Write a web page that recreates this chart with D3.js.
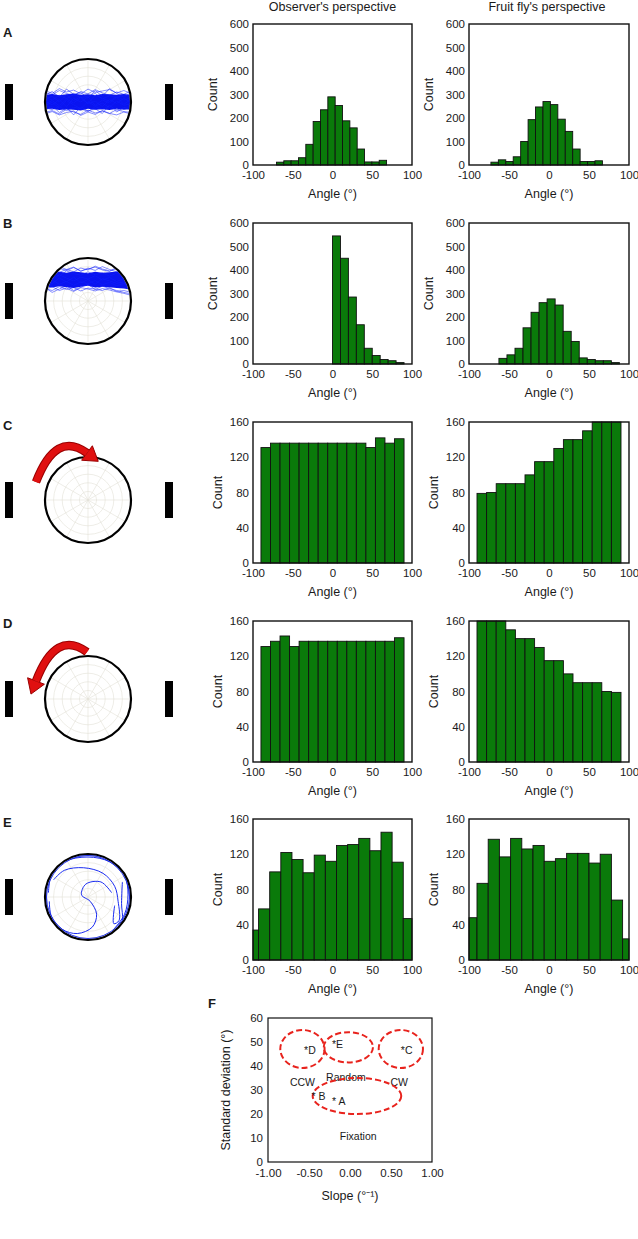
<!DOCTYPE html>
<html><head><meta charset="utf-8">
<script src="https://cdn.jsdelivr.net/npm/d3@7"></script>
<style>body{margin:0;background:#fff} svg{display:block} text{font-family:"Liberation Sans",Arial,sans-serif;fill:#1a1a1a}</style>
</head><body><svg id="fig" width="638" height="1239"></svg>
<script>
// ---------------- DATA ----------------
const panelLetters = ["A","B","C","D","E"];
const colTitles = ["Observer's perspective","Fruit fly's perspective"];
const angleTicks = [-100,-50,0,50,100];
const countTicksBig = [0,100,200,300,400,500,600];
const countTicksSmall = [0,40,80,120,160];

// histograms: counts of equal-width bins spanning [lo, hi]
const obsA = [12,18,18,31,88,185,235,290,253,188,158,68,13,13,20];
const obsARange = [-70.5,68];
const flyA = [12,22,15,35,100,193,247,270,257,195,143,68,15,15,18];
const flyARange = [-72.6,66.8];
const obsB = [545,450,285,167,67,36,19,14,6];
const obsBRange = [0,90];
const flyB = [24,39,67,154,220,261,277,251,139,96,26,19,14,14,6];
const flyBRange = [-62.6,88];
const obsC = [131,136,136,136,136,136,136,136,136,136,136,131,142,136,141];
const obsCRange = [-90,90];
const flyC = [79,80,90,90,90,100,115,115,130,140,140,150,170,172,168];
const flyCRange = [-90,90];
const obsD = [131,137,143,131,137,137,137,137,137,137,137,137,137,137,141];
const obsDRange = [-90,90];
const flyD = [168,172,170,150,140,140,130,115,115,100,90,90,90,80,79];
const flyDRange = [-90,90];
const obsE = [34,58,100,122,114,99,119,112,130,131,138,124,145,111,47];
const obsERange = [-107,103];
const flyE = [48,87,137,117,138,126,130,112,115,121,121,110,120,68,24];
const flyERange = [-104,106];

// arena trajectories (elevation in degrees, sampled across the arena)
const coreTopA = [15,17,14,16,18,15,16,14,17,16,15,17,15];
const coreBotA = [-15,-14,-17,-15,-16,-18,-14,-16,-15,-17,-14,-16,-15];
const tracesA = [
  [-5,3,-8,6,-2,9,-4,2,-10,5,-3,8,-1],
  [10,4,14,7,16,9,12,18,6,13,9,15,11],
  [-12,-16,-9,-18,-11,-14,-20,-10,-15,-8,-17,-12,-13],
  [20,15,24,18,13,22,17,26,19,14,21,16,23],
  [-22,-18,-25,-15,-21,-26,-17,-23,-19,-24,-16,-20,-22],
  [2,-6,5,-10,8,0,11,-7,4,-2,10,-5,6],
  [14,22,10,27,16,20,8,24,12,28,18,10,20],
  [-18,-8,-22,-12,-27,-10,-19,-14,-24,-6,-21,-11,-17],
  [7,12,0,15,3,11,-3,14,8,1,12,4,9],
  [-8,0,-13,3,-6,-14,1,-9,-2,-12,2,-7,-4],
  [24,18,28,21,25,17,27,20,23,26,19,24,18],
  [-25,-20,-27,-22,-19,-28,-21,-26,-18,-24,-27,-21,-25]
];
const coreTopB = [60,58,61,59,62,60,58,61,59,60,62,59,58];
const coreBotB = [30,28,31,29,27,30,32,28,30,29,27,26,24];
const tracesB = [
  [66,62,68,64,70,63,67,71,65,62,68,64,60],
  [24,30,22,27,20,28,25,21,26,23,19,16,12],
  [52,45,55,48,42,50,46,53,44,49,41,47,43],
  [38,44,35,41,33,40,36,43,34,39,32,37,30],
  [70,64,72,66,61,69,65,73,67,63,70,65,62],
  [28,18,25,32,22,29,35,24,31,26,22,18,15],
  [56,60,52,63,57,54,61,55,59,52,58,54,50],
  [44,36,48,40,50,38,45,35,47,42,37,40,34],
  [64,68,60,66,71,62,69,64,72,66,61,67,63],
  [26,22,30,24,28,21,27,25,22,28,20,22,18]
];
// free-flight trajectories for E (arena units, -1..1)
const trajE = [
  [[-0.92,0.1],[-0.85,0.5],[-0.55,0.82],[0,0.93],[0.5,0.82],[0.85,0.5],[0.93,0.05],[0.85,-0.4],[0.6,-0.75]],
  [[-0.8,0.4],[-0.55,0.62],[-0.1,0.68],[0.35,0.55],[0.62,0.25],[0.7,-0.1],[0.72,-0.55],[0.6,-0.62],[0.62,-0.2]],
  [[-0.9,-0.1],[-0.85,-0.45],[-0.6,-0.75],[-0.25,-0.85],[0.1,-0.7],[0.2,-0.4],[0.05,-0.1],[-0.15,0.05],[-0.05,0.3],[0.3,0.35],[0.55,0.1]],
  [[0.8,0.35],[0.78,-0.15],[0.8,-0.55],[0.7,-0.8]],
  [[-0.96,-0.25],[-0.97,0.2],[-0.85,0.55],[-0.6,0.8],[-0.2,0.96],[0.25,0.95],[0.65,0.76],[0.9,0.4],[0.97,-0.05]]
];

// Panel F
const fTicksX = [-1,-0.5,0,0.5,1];
const fTicksY = [0,10,20,30,40,50,60];
const groupNames = ["CCW","Random","CW","Fixation"];
const groupSlope = [-0.58,-0.02,0.62,0.085];
const groupSD = [47.1,47.8,47.1,27.5];
const groupRx = [0.27,0.3,0.27,0.54];
const groupRy = [7.9,6.3,7.9,7.5];
const groupLabelSlope = [-0.58,-0.05,0.6,0.1];
const groupLabelSD = [33.3,35.4,33.3,10.8];
const starNames = ["*D","*E","*C","* B","* A"];
const starSlope = [-0.56,-0.22,0.62,-0.47,-0.22];
const starSD = [46.5,49.0,46.5,27.3,25.6];

// ---------------- DRAW ----------------
const svg = d3.select("#fig");
const rowTop = [24,223,422,621,819];
const plotH = 141;
const cols = [[253,412],[469,629]];
const letterY = [32,223,425,623,822];
const GREEN = "#0a7a0a";

const histRows = [
  [[obsA,obsARange],[flyA,flyARange]],
  [[obsB,obsBRange],[flyB,flyBRange]],
  [[obsC,obsCRange],[flyC,flyCRange]],
  [[obsD,obsDRange],[flyD,flyDRange]],
  [[obsE,obsERange],[flyE,flyERange]]
];

// column titles
colTitles.forEach((t,i)=>{
  svg.append("text").attr("x",(cols[i][0]+cols[i][1])/2 + (i===0?0:-2)).attr("y",11)
    .attr("text-anchor","middle").attr("font-size",12.5).text(t);
});

histRows.forEach((row,r)=>{
  const y0 = rowTop[r], y1 = y0+plotH;
  const big = r<2;
  const yMax = big?600:160;
  const yTicks = big?countTicksBig:countTicksSmall;
  row.forEach(([counts,range],c)=>{
    const [x0,x1] = cols[c];
    const g = svg.append("g");
    const x = d3.scaleLinear().domain([-100,100]).range([x0,x1]).clamp(true);
    const y = d3.scaleLinear().domain([0,yMax]).range([y1,y0]).clamp(true);
    const w = (range[1]-range[0])/counts.length;
    const bins = counts.map((v,i)=>({a:range[0]+i*w,b:range[0]+(i+1)*w,v}));
    g.selectAll("rect.bar").data(bins.filter(d=>x(d.b)>x(d.a))).join("rect")
      .attr("class","bar")
      .attr("x",d=>x(d.a)).attr("width",d=>x(d.b)-x(d.a))
      .attr("y",d=>y(d.v)).attr("height",d=>y(0)-y(d.v))
      .attr("fill",GREEN).attr("stroke","#111").attr("stroke-width",0.9);
    g.append("rect").attr("x",x0).attr("y",y0).attr("width",x1-x0).attr("height",plotH)
      .attr("fill","none").attr("stroke","#111").attr("stroke-width",1.4);
    const ya = g.append("g").attr("transform",`translate(${x0},0)`)
      .call(d3.axisLeft(y).tickValues(yTicks).tickSize(0).tickPadding(4).tickFormat(d=>String(d)));
    ya.select(".domain").remove();
    ya.selectAll("text").attr("font-size",11.5).attr("font-family","Liberation Sans, Arial, sans-serif").attr("fill","#1a1a1a");
    const xa = g.append("g").attr("transform",`translate(0,${y1})`)
      .call(d3.axisBottom(x).tickValues(angleTicks).tickSize(0).tickPadding(6).tickFormat(d=>String(d)));
    xa.select(".domain").remove();
    xa.selectAll("text").attr("font-size",11.5).attr("font-family","Liberation Sans, Arial, sans-serif").attr("fill","#1a1a1a");
    g.append("text").attr("x",(x0+x1)/2).attr("y",y1+29).attr("dominant-baseline","central")
      .attr("text-anchor","middle").attr("font-size",12.5).text("Angle (°)");
    const cxLab = x0 - (big?40:35);
    g.append("text").attr("transform",`translate(${cxLab},${(y0+y1)/2}) rotate(-90)`)
      .attr("text-anchor","middle").attr("dominant-baseline","central").attr("font-size",12.5).text("Count");
  });

  // panel letter
  svg.append("text").attr("x",3).attr("y",letterY[r]).attr("dominant-baseline","central")
    .attr("font-size",13).attr("font-weight","bold").text(panelLetters[r]);

  // arena
  const cx = 88, cy = y0+78, R = 43;
  const ga = svg.append("g");
  ga.append("rect").attr("x",5).attr("y",cy-18).attr("width",8).attr("height",36).attr("fill","#000");
  ga.append("rect").attr("x",165).attr("y",cy-18).attr("width",8).attr("height",36).attr("fill","#000");
  ga.append("circle").attr("cx",cx).attr("cy",cy).attr("r",R).attr("fill","#fff");
  // polar grid
  [0.2,0.4,0.6,0.8].forEach(f=>ga.append("circle").attr("cx",cx).attr("cy",cy).attr("r",R*f)
    .attr("fill","none").attr("stroke","#e2e0d6").attr("stroke-width",0.6));
  d3.range(0,180,30).forEach(a=>{
    const rad=a*Math.PI/180;
    ga.append("line").attr("x1",cx-R*Math.cos(rad)).attr("y1",cy-R*Math.sin(rad))
      .attr("x2",cx+R*Math.cos(rad)).attr("y2",cy+R*Math.sin(rad))
      .attr("stroke","#e2e0d6").attr("stroke-width",0.6);
  });
  const clipId = "clip"+r;
  svg.append("clipPath").attr("id",clipId).append("circle").attr("cx",cx).attr("cy",cy).attr("r",R-1);
  const gc = ga.append("g").attr("clip-path",`url(#${clipId})`);
  if (r<2){
    const core = r===0?[coreTopA,coreBotA]:[coreTopB,coreBotB];
    const traces = r===0?tracesA:tracesB;
    const px = d3.scalePoint().domain(d3.range(core[0].length)).range([cx-R,cx+R]);
    const py = d3.scaleLinear().domain([-90,90]).range([cy+R,cy-R]);
    gc.append("path").datum(core[0].map((v,i)=>[i,v,core[1][i]]))
      .attr("d",d3.area().x(d=>px(d[0])).y0(d=>py(d[2])).y1(d=>py(d[1])))
      .attr("fill","#0a14f0");
    gc.selectAll("path.tr").data(traces).join("path").attr("class","tr")
      .attr("d",d3.line().x((d,i)=>px(i)).y(d=>py(d)))
      .attr("fill","none").attr("stroke","#1020ff").attr("stroke-width",0.6).attr("opacity",0.85);
  }
  ga.append("circle").attr("cx",cx).attr("cy",cy).attr("r",R)
    .attr("fill","none").attr("stroke","#000").attr("stroke-width",2.2);
  if (r===4){
    const ux = d3.scaleLinear().domain([-1,1]).range([cx-R,cx+R]);
    const uy = d3.scaleLinear().domain([-1,1]).range([cy+R,cy-R]);
    gc.selectAll("path.tj").data(trajE).join("path").attr("class","tj")
      .attr("d",d3.line().x(d=>ux(d[0])).y(d=>uy(d[1])).curve(d3.curveCatmullRom))
      .attr("fill","none").attr("stroke","#1a2cf0").attr("stroke-width",1);
    ga.append("circle").attr("cx",cx).attr("cy",cy).attr("r",R-1.5)
      .attr("fill","none").attr("stroke","#2030e0").attr("stroke-width",1);
  }
  if (r===2 || r===3){
    const p0=[-52,-18], c=[-32,-70], p1=[-1,-47];
    const A = r===2?p0:p1, B = r===2?p1:p0;
    const dx=B[0]-c[0], dy=B[1]-c[1], L=Math.hypot(dx,dy);
    const ux=dx/L, uy=dy/L, nx=-uy, ny=ux;
    const tip=[B[0]+14*ux,B[1]+14*uy];
    const b1=[B[0]+9*nx,B[1]+9*ny], b2=[B[0]-9*nx,B[1]-9*ny];
    const body = `M${cx+A[0]},${cy+A[1]} Q${cx+c[0]},${cy+c[1]} ${cx+B[0]},${cy+B[1]}`;
    ga.append("path").attr("d",body).attr("fill","none").attr("stroke","#9a0000").attr("stroke-width",8.5);
    ga.append("path").attr("d",`M${cx+b1[0]},${cy+b1[1]} L${cx+tip[0]},${cy+tip[1]} L${cx+b2[0]},${cy+b2[1]} Z`)
      .attr("fill","#e01010").attr("stroke","#9a0000").attr("stroke-width",1);
    ga.append("path").attr("d",body).attr("fill","none").attr("stroke","#e01010").attr("stroke-width",6.5);
  }
});

// ---------------- Panel F ----------------
{
  const x0=268,x1=432,y0=1018,y1=1162;
  const g = svg.append("g");
  const x = d3.scaleLinear().domain([-1,1]).range([x0,x1]);
  const y = d3.scaleLinear().domain([0,60]).range([y1,y0]);
  g.append("rect").attr("x",x0).attr("y",y0).attr("width",x1-x0).attr("height",y1-y0)
    .attr("fill","none").attr("stroke","#111").attr("stroke-width",1.2);
  const ya = g.append("g").attr("transform",`translate(${x0},0)`)
    .call(d3.axisLeft(y).tickValues(fTicksY).tickSize(0).tickPadding(5).tickFormat(d=>String(d)));
  ya.select(".domain").remove();
  ya.selectAll("text").attr("font-size",11.5).attr("font-family","Liberation Sans, Arial, sans-serif").attr("fill","#1a1a1a");
  const xa = g.append("g").attr("transform",`translate(0,${y1})`)
    .call(d3.axisBottom(x).tickValues(fTicksX).tickSize(0).tickPadding(7).tickFormat(d=>d.toFixed(2)));
  xa.select(".domain").remove();
  xa.selectAll("text").attr("font-size",11.5).attr("font-family","Liberation Sans, Arial, sans-serif").attr("fill","#1a1a1a");
  g.append("text").attr("x",(x0+x1)/2).attr("y",1196).attr("dominant-baseline","central")
    .attr("text-anchor","middle").attr("font-size",12.5).text("Slope (°⁻¹)");
  g.append("text").attr("transform",`translate(226,${(y0+y1)/2}) rotate(-90)`)
    .attr("text-anchor","middle").attr("dominant-baseline","central").attr("font-size",12.5).text("Standard deviation (°)");
  svg.append("text").attr("x",208).attr("y",1003).attr("dominant-baseline","central")
    .attr("font-size",13).attr("font-weight","bold").text("F");
  groupNames.forEach((n,i)=>{
    g.append("ellipse").attr("cx",x(groupSlope[i])).attr("cy",y(groupSD[i]))
      .attr("rx",x(groupRx[i])-x(0)).attr("ry",y(0)-y(groupRy[i]))
      .attr("fill","none").attr("stroke","#e8231d").attr("stroke-width",2).attr("stroke-dasharray","6,3");
    g.append("text").attr("x",x(groupLabelSlope[i])).attr("y",y(groupLabelSD[i])).attr("dominant-baseline","central")
      .attr("text-anchor","middle").attr("font-size",10.5).text(n);
  });
  starNames.forEach((n,i)=>{
    g.append("text").attr("x",x(starSlope[i])).attr("y",y(starSD[i])).attr("dominant-baseline","central")
      .attr("font-size",10.5).text(n);
  });
}
</script></body></html>
